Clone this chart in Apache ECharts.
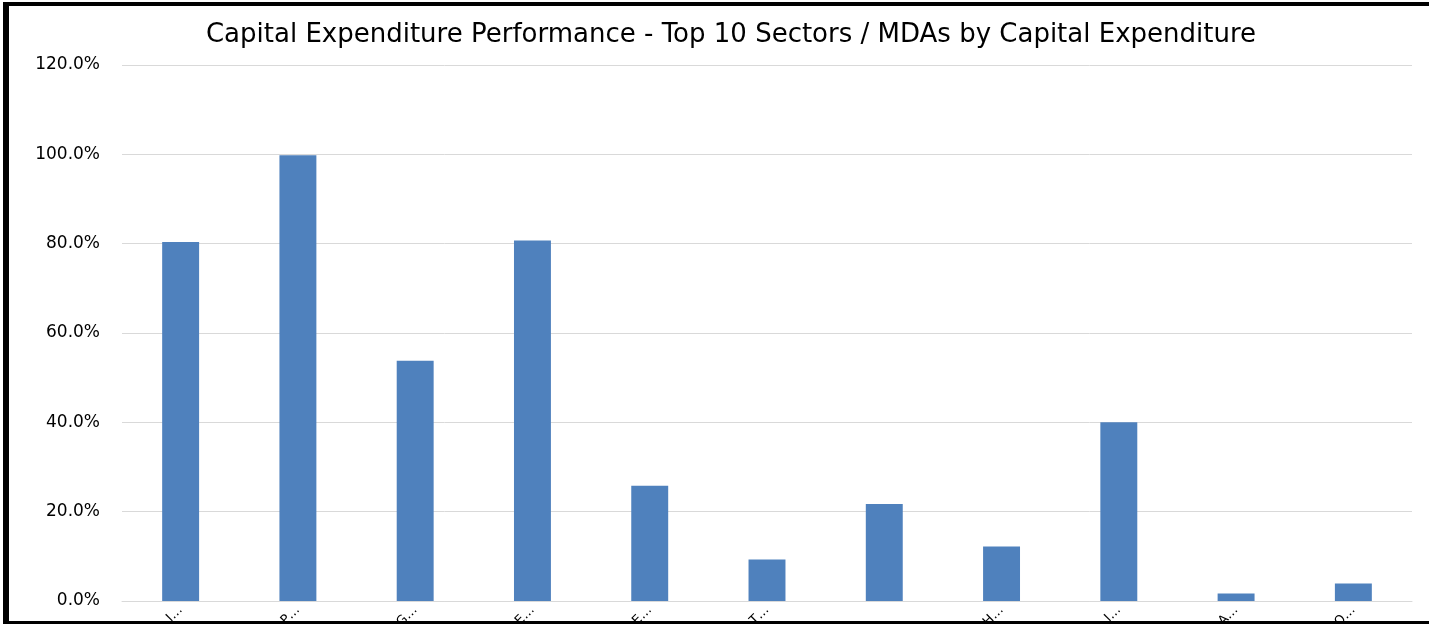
<!DOCTYPE html>
<html>
<head>
<meta charset="utf-8">
<script src="https://cdn.jsdelivr.net/npm/echarts@6/dist/echarts.min.js"></script>
<style>
  html, body { margin: 0; padding: 0; background: #fff; }
  #chart { width: 1429px; height: 624px; }
</style>
</head>
<body>
<div id="chart"></div>
<script>
// Sector / MDA labels as shown on the category axis (truncated names)
const categories = ['I…', 'P…', 'G…', 'E…', 'E…', 'T…', '', 'H…', 'I…', 'A…', 'O…'];
// Capital expenditure performance, percent
const performance = [80.4, 99.8, 53.8, 80.7, 25.8, 9.3, 21.7, 12.2, 40.0, 1.7, 3.9];
// Value axis range and step, percent
const axisMin = 0;
const axisMax = 120;
const axisStep = 20;

const chart = echarts.init(document.getElementById('chart'), null, { renderer: 'canvas' });

chart.setOption({
  animation: false,
  backgroundColor: '#ffffff',
  title: {
    text: 'Capital Expenditure Performance - Top 10 Sectors / MDAs by Capital Expenditure',
    left: 726,
    textAlign: 'center',
    top: 17,
    textStyle: {
      fontFamily: 'DejaVu Sans',
      fontSize: 26,
      fontWeight: 'normal',
      color: '#000000'
    }
  },
  grid: { left: 122, right: 17, top: 65, bottom: 23, outerBoundsMode: 'none' },
  xAxis: {
    type: 'category',
    data: categories,
    axisLine: { lineStyle: { color: '#d9d9d9', width: 1 } },
    axisTick: { show: false },
    axisLabel: {
      interval: 0,
      rotate: 45,
      margin: 7,
      fontFamily: 'DejaVu Sans',
      fontSize: 13,
      color: '#000000'
    }
  },
  yAxis: {
    type: 'value',
    min: axisMin,
    max: axisMax,
    interval: axisStep,
    axisLine: { show: false },
    axisTick: { show: false },
    splitLine: { lineStyle: { color: '#d9d9d9', width: 1 } },
    axisLabel: {
      margin: 22,
      fontFamily: 'DejaVu Sans',
      fontSize: 17,
      color: '#000000',
      formatter: v => v.toFixed(1) + '%'
    }
  },
  series: [{
    type: 'bar',
    data: performance,
    barWidth: '31.5%',
    itemStyle: { color: '#4f81bd' }
  }],
  graphic: [
    // frame: top, left and bottom black bands
    { type: 'rect', z: 100, shape: { x: 3, y: 2, width: 1426, height: 4 }, style: { fill: '#000' } },
    { type: 'rect', z: 100, shape: { x: 3, y: 2, width: 6, height: 622 }, style: { fill: '#000' } },
    { type: 'rect', z: 100, shape: { x: 3, y: 621, width: 1426, height: 3 }, style: { fill: '#000' } }
  ]
});
</script>
</body>
</html>
